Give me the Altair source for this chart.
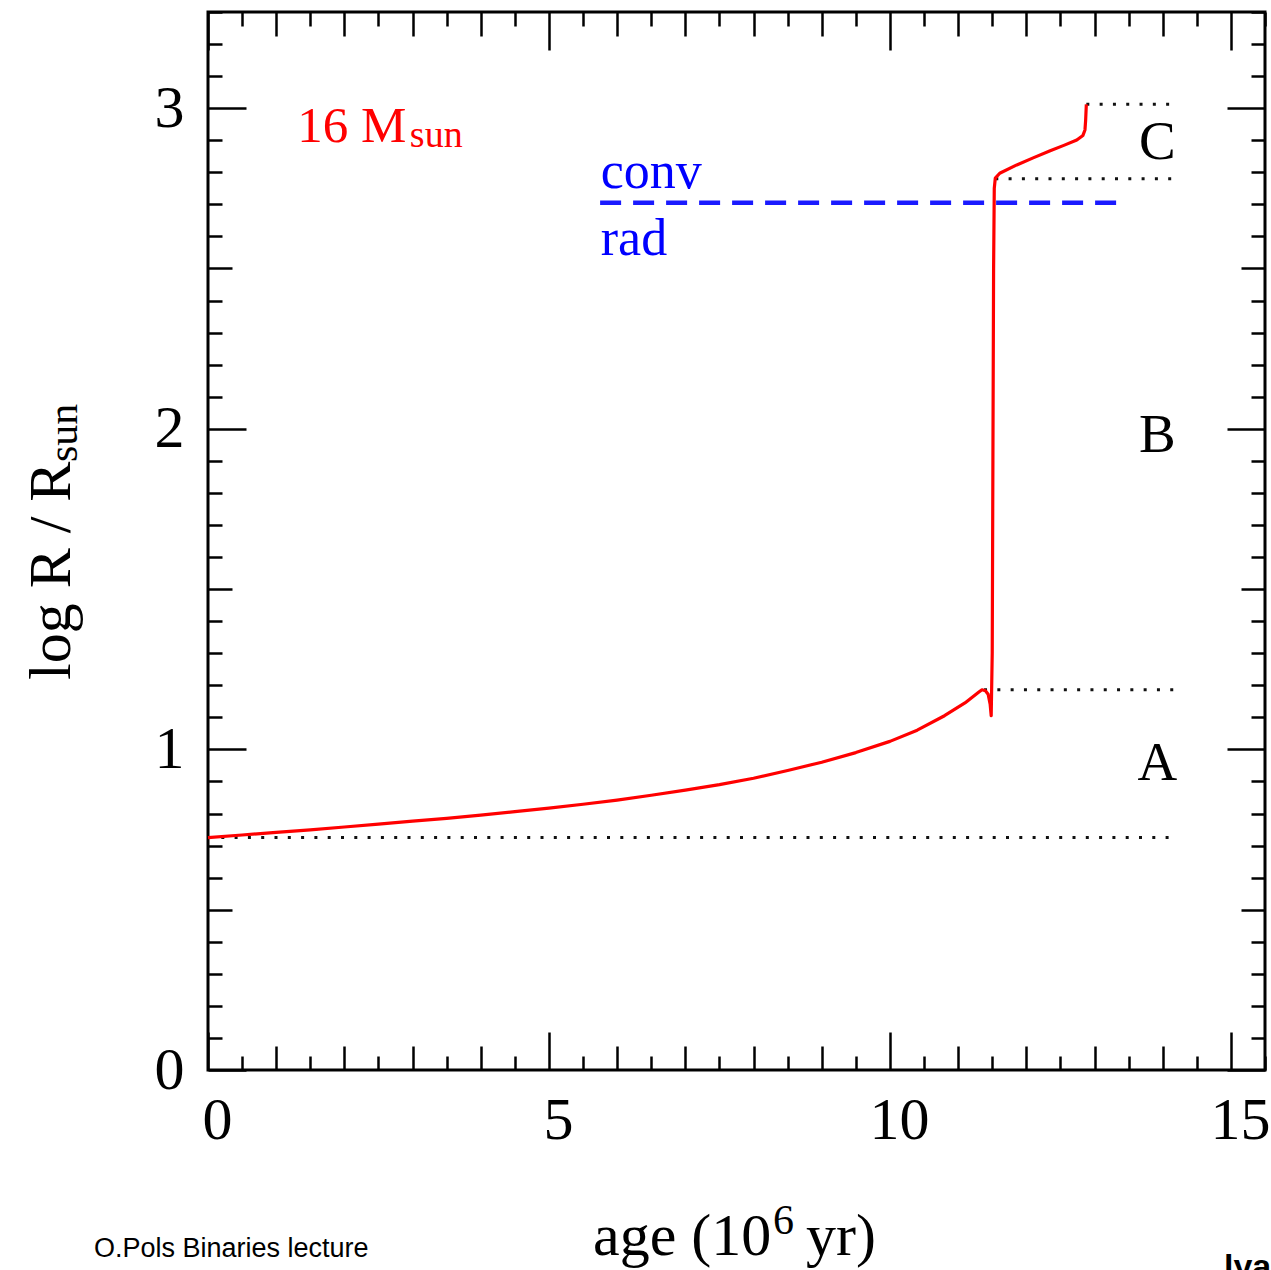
import altair as alt
import pandas as pd

# ---------------- data ----------------
age = [0.0, 0.5, 1.0, 1.5, 2.0, 2.5, 3.0, 3.5, 4.0, 4.5, 5.0, 5.5, 6.0, 6.5, 7.0,
       7.5, 8.0, 8.5, 9.0, 9.5, 10.0, 10.4, 10.8, 11.1, 11.3, 11.35, 11.40, 11.44,
       11.47, 11.485, 11.50, 11.51, 11.52, 11.53, 11.545, 11.61, 11.86, 12.1, 12.35,
       12.55, 12.74, 12.83, 12.86, 12.87, 12.88]
log_r = [0.725, 0.733, 0.741, 0.749, 0.758, 0.767, 0.776, 0.785, 0.795, 0.806, 0.817,
         0.829, 0.842, 0.857, 0.873, 0.890, 0.910, 0.934, 0.960, 0.990, 1.025, 1.060,
         1.105, 1.145, 1.178, 1.186, 1.183, 1.172, 1.140, 1.105, 1.300, 1.900, 2.500,
         2.750, 2.782, 2.797, 2.823, 2.845, 2.867, 2.884, 2.901, 2.915, 2.932, 2.963, 3.012]

dot_y = [0.725, 1.186, 2.780, 3.012]
dot_x0 = [0.0, 11.38, 11.545, 12.88]
dot_x1 = [14.18, 14.18, 14.18, 14.18]

dash_y = [2.705]
dash_x0 = [5.75]
dash_x1 = [13.33]

x_label_values = [0, 5, 10, 15]
y_label_values = [0, 1, 2, 3]
x_tick_values = [0.0, 0.5, 1.0, 1.5, 2.0, 2.5, 3.0, 3.5, 4.0, 4.5, 5.0, 5.5, 6.0, 6.5,
                 7.0, 7.5, 8.0, 8.5, 9.0, 9.5, 10.0, 10.5, 11.0, 11.5, 12.0, 12.5, 13.0,
                 13.5, 14.0, 14.5, 15.0, 15.5]
y_tick_values = [0.0, 0.1, 0.2, 0.3, 0.4, 0.5, 0.6, 0.7, 0.8, 0.9, 1.0, 1.1, 1.2, 1.3,
                 1.4, 1.5, 1.6, 1.7, 1.8, 1.9, 2.0, 2.1, 2.2, 2.3, 2.4, 2.5, 2.6, 2.7,
                 2.8, 2.9, 3.0, 3.1, 3.2, 3.3]

ann_left_text = ["16 M", "sun", "conv", "rad"]
ann_left_x = [1.31, 2.96, 5.76, 5.76]
ann_left_y = [2.894, 2.879, 2.751, 2.542]
ann_left_color = ["#ff0000", "#ff0000", "#0000ff", "#0000ff"]
ann_left_size = [51, 38, 52, 52]

ann_center_text = ["A", "B", "C"]
ann_center_x = [13.92, 13.92, 13.92]
ann_center_y = [0.905, 1.928, 2.842]

# ---------------- layout ----------------
W, H = 1057, 1058
SERIF = "Liberation Serif"

xs = alt.Scale(domain=[0, 15.5], nice=False, zero=False)
ys = alt.Scale(domain=[0, 3.3], nice=False, zero=False)

x_cond = {"condition": [
    {"test": "abs(datum.value / 5 - round(datum.value / 5)) < 0.001", "value": 38},
    {"test": "abs(datum.value - round(datum.value)) < 0.001", "value": 24}],
    "value": 14}
y_cond = {"condition": [
    {"test": "abs(datum.value - round(datum.value)) < 0.001", "value": 38},
    {"test": "abs(datum.value * 2 - round(datum.value * 2)) < 0.001", "value": 24}],
    "value": 14}

tick_common = dict(labels=False, domain=False, grid=False, tickColor="black",
                   tickWidth=2.5, title=None)

ax_x_lab = alt.Axis(orient="bottom", values=x_label_values, ticks=False, tickSize=0,
                    domain=False, grid=False, labelFont=SERIF, labelFontSize=60,
                    labelColor="black", labelPadding=21, labelOffset=9,
                    labelFlush=False, labelOverlap=False, title=None)
ax_y_lab = alt.Axis(orient="left", values=y_label_values, ticks=False, tickSize=0,
                    domain=False, grid=False, labelFont=SERIF, labelFontSize=60,
                    labelColor="black", labelPadding=24, labelFlush=False,
                    labelOverlap=False, title=None)
ax_x_bot = alt.Axis(orient="top", offset=-H, values=x_tick_values, tickSize=x_cond, **tick_common)
ax_x_top = alt.Axis(orient="bottom", offset=-H, values=x_tick_values, tickSize=x_cond, **tick_common)
ax_y_left = alt.Axis(orient="right", offset=-W, values=y_tick_values, tickSize=y_cond, **tick_common)
ax_y_right = alt.Axis(orient="left", offset=-W, values=y_tick_values, tickSize=y_cond, **tick_common)

# ---------------- layers ----------------
df_dot = pd.DataFrame({"y": dot_y, "x0": dot_x0, "x1": dot_x1})
dotted = alt.Chart(df_dot).mark_rule(
    color="#111111", strokeWidth=3, strokeDash=[3, 10.3]
).encode(
    x=alt.X("x0:Q", scale=xs, axis=ax_x_lab),
    x2="x1:Q",
    y=alt.Y("y:Q", scale=ys, axis=ax_y_lab),
)

df_red = pd.DataFrame({"age": age, "logr": log_r, "i": list(range(len(age)))})
red = alt.Chart(df_red).mark_line(
    color="#ff0000", strokeWidth=3.2, strokeJoin="round"
).encode(
    x=alt.X("age:Q", scale=xs, axis=ax_x_bot),
    y=alt.Y("logr:Q", scale=ys, axis=ax_y_left),
    order="i:Q",
)

df_dash = pd.DataFrame({"y": dash_y, "x0": dash_x0, "x1": dash_x1})
dashed = alt.Chart(df_dash).mark_rule(
    color="#1a1aff", strokeWidth=4.5, strokeDash=[21, 12]
).encode(
    x=alt.X("x0:Q", scale=xs, axis=ax_x_top),
    x2="x1:Q",
    y=alt.Y("y:Q", scale=ys, axis=ax_y_right),
)

df_al = pd.DataFrame({"t": ann_left_text, "x": ann_left_x, "y": ann_left_y,
                      "c": ann_left_color, "s": ann_left_size})
ann_left = alt.Chart(df_al).mark_text(
    font=SERIF, align="left", baseline="alphabetic"
).encode(
    x=alt.X("x:Q", scale=xs, axis=None),
    y=alt.Y("y:Q", scale=ys, axis=None),
    text="t:N",
    color=alt.Color("c:N", scale=None),
    size=alt.Size("s:Q", scale=None),
)

df_ac = pd.DataFrame({"t": ann_center_text, "x": ann_center_x, "y": ann_center_y})
ann_center = alt.Chart(df_ac).mark_text(
    font=SERIF, align="center", baseline="alphabetic", fontSize=55, color="black"
).encode(
    x=alt.X("x:Q", scale=xs, axis=None),
    y=alt.Y("y:Q", scale=ys, axis=None),
    text="t:N",
)

# axis titles and captions (pixel placement relative to the plot area)
title_text = ["age (10", "6", "yr)"]
one = pd.DataFrame({"k": [0]})


def txt(text, px, py, size, angle=0, font=SERIF, weight="normal", color="black"):
    kw = dict(font=font, fontSize=size, align="left", baseline="alphabetic",
              color=color, fontWeight=weight, text=text)
    if angle:
        kw["angle"] = angle
    return alt.Chart(one).mark_text(**kw).encode(x=alt.value(px), y=alt.value(py))


x_title = [
    txt(title_text[0], 385, 1243, 60),
    txt(title_text[1], 565, 1222, 42),
    txt(title_text[2], 598, 1243, 60),
]
y_title = [
    txt("log R / R", -138, 668, 60, angle=270),
    txt("sun", -131, 450, 42, angle=270),
]
footer = [
    txt("O.Pols Binaries lecture", -114, 1245, 27, font="Liberation Sans"),
    txt("lya", 1016, 1266, 34, font="Liberation Sans", weight="bold"),
]

chart = alt.layer(
    dotted, red, dashed, ann_left, ann_center, *x_title, *y_title, *footer
).resolve_axis(
    x="independent", y="independent"
).properties(
    width=W, height=H,
    autosize=alt.AutoSizeParams(type="none"),
    padding={"left": 208, "top": 12, "right": 6, "bottom": 200},
    background="white",
).configure_view(
    stroke="black", strokeWidth=3
)

chart.save("out.html", embed_options={"renderer": "svg", "actions": False})
